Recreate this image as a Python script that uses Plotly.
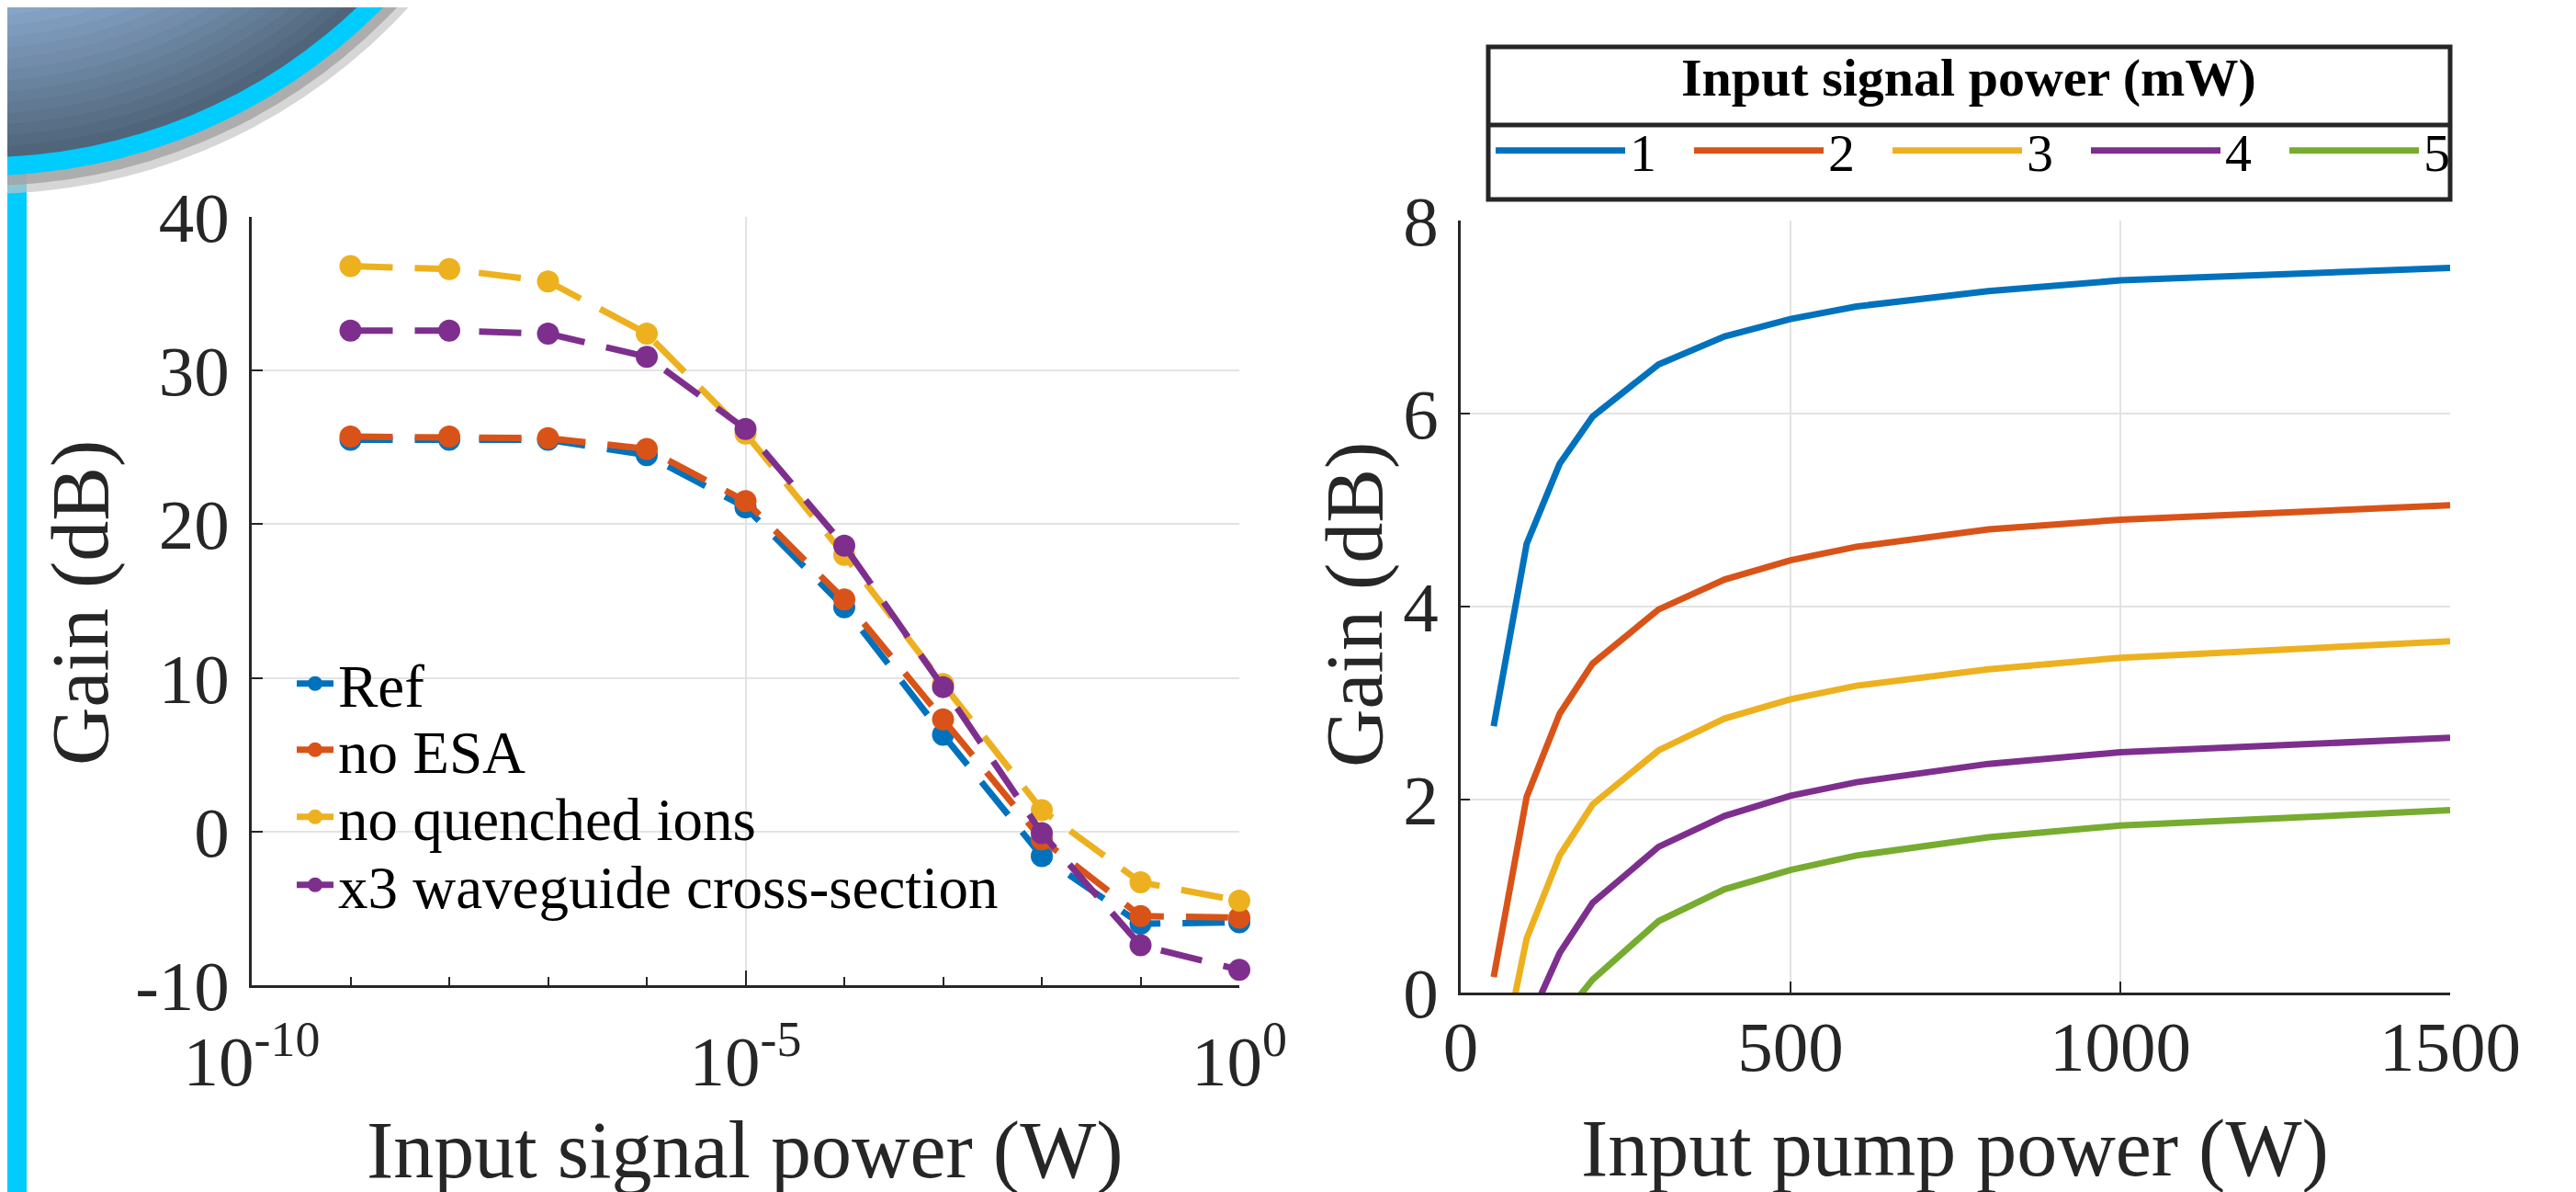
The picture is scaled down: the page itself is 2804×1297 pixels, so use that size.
import plotly.graph_objects as go

# ---------------- data: left panel ----------------
signal_power_W = [1e-9, 1e-8, 1e-7, 1e-6, 1e-5, 1e-4, 1e-3, 1e-2, 1e-1, 1e0]
gain_ref = [25.5, 25.5, 25.5, 24.5, 21.1, 14.6, 6.3, -1.6, -6.0, -5.9]
gain_no_esa = [25.7, 25.7, 25.6, 24.9, 21.5, 15.1, 7.3, -0.5, -5.5, -5.6]
gain_no_quench = [36.8, 36.6, 35.8, 32.4, 25.9, 18.0, 9.6, 1.4, -3.3, -4.5]
gain_x3 = [32.6, 32.6, 32.4, 30.9, 26.2, 18.6, 9.4, -0.1, -7.4, -9.0]
left_names = ["Ref", "no ESA", "no quenched ions", "x3 waveguide cross-section"]
left_series = [gain_ref, gain_no_esa, gain_no_quench, gain_x3]
left_xticks = [1e-10, 1e-5, 1e0]
left_xticktext = ["10<sup>-10</sup>", "10<sup>-5</sup>", "10<sup>0</sup>"]
left_minor = [1e-9, 1e-8, 1e-7, 1e-6, 1e-4, 1e-3, 1e-2, 1e-1]
left_yticks = [-10, 0, 10, 20, 30, 40]
left_yticktext = ["-10", "0", "10", "20", "30", "40"]

# ---------------- data: right panel ----------------
pump_power_W = [50, 100, 150, 200, 300, 400, 500, 600, 800, 1000, 1500]
gain_1mW = [2.76, 4.65, 5.48, 5.97, 6.51, 6.80, 6.98, 7.11, 7.27, 7.38, 7.51]
gain_2mW = [0.16, 2.03, 2.89, 3.41, 3.97, 4.28, 4.48, 4.62, 4.80, 4.90, 5.05]
gain_3mW = [-1.1, 0.56, 1.42, 1.95, 2.51, 2.84, 3.04, 3.18, 3.35, 3.47, 3.64]
gain_4mW = [-2.4, -0.35, 0.41, 0.93, 1.51, 1.83, 2.04, 2.18, 2.37, 2.49, 2.64]
gain_5mW = [-3.6, -1.5, -0.29, 0.135, 0.74, 1.07, 1.27, 1.42, 1.61, 1.73, 1.89]
right_names = ["1", "2", "3", "4", "5"]
right_series = [gain_1mW, gain_2mW, gain_3mW, gain_4mW, gain_5mW]
right_xticks = [0, 500, 1000, 1500]
right_yticks = [0, 2, 4, 6, 8]

colors = ["#0072BD", "#D95319", "#EDB120", "#7E2F8E", "#77AC30"]

W, H = 2804, 1297
def px(x):
    return x / W
def py(y):
    return 1 - y / H

FONT = "Liberation Serif"
TXT = "#262626"

fig = go.Figure()

left_legends = ["legend", "legend3", "legend4", "legend5"]
left_rows_y = [736, 808, 881, 955]
for name, ys, c, lg in zip(left_names, left_series, colors, left_legends):
    fig.add_trace(go.Scatter(
        x=signal_power_W, y=ys, name=name, mode="lines+markers",
        line=dict(color=c, width=7, dash="46px,24px"),
        marker=dict(color=c, size=24),
        cliponaxis=False, xaxis="x", yaxis="y", legend=lg))

for name, ys, c in zip(right_names, right_series, colors):
    fig.add_trace(go.Scatter(
        x=pump_power_W, y=ys, name=name, mode="lines",
        line=dict(color=c, width=7),
        xaxis="x2", yaxis="y2", legend="legend2"))

axis_common = dict(
    showline=True, linecolor=TXT, linewidth=2.5, mirror=False,
    showgrid=True, gridcolor="#e3e3e3", gridwidth=2,
    zeroline=False, ticks="inside", tickcolor=TXT, tickwidth=2,
    tickfont=dict(family=FONT, size=77, color=TXT),
    automargin=False,
)

layout_legends = {}
for lg, yrow in zip(left_legends, left_rows_y):
    layout_legends[lg] = dict(
        x=px(310), y=py(yrow), xanchor="left", yanchor="middle",
        bgcolor="rgba(0,0,0,0)", borderwidth=0,
        font=dict(family=FONT, size=65, color="black"), itemwidth=40)

fig.update_layout(
    width=W, height=H,
    margin=dict(l=0, r=0, t=0, b=0),
    paper_bgcolor="white", plot_bgcolor="white",
    font=dict(family=FONT, color=TXT),
    xaxis=dict(axis_common, type="log", domain=[px(266), px(1341)],
               range=[-10, 0], tickmode="array", tickvals=left_xticks,
               ticktext=left_xticktext, ticklen=16, ticklabelstandoff=14,
               minor=dict(tickmode="array", tickvals=left_minor, ticks="inside",
                          ticklen=9, tickcolor=TXT, tickwidth=2, showgrid=False),
               anchor="y"),
    yaxis=dict(axis_common, domain=[py(1064), py(228)], range=[-10, 40],
               tickmode="array", tickvals=left_yticks, ticktext=left_yticktext,
               ticklen=12, ticklabelstandoff=6, anchor="x"),
    xaxis2=dict(axis_common, domain=[px(1582), px(2659)], range=[0, 1500],
                tickmode="array", tickvals=right_xticks, ticklen=12,
                ticklabelstandoff=-10, anchor="y2"),
    yaxis2=dict(axis_common, domain=[py(1072), py(232)], range=[0, 8],
                tickmode="array", tickvals=right_yticks, ticklen=10,
                ticklabelstandoff=6, anchor="x2"),
    legend2=dict(x=px(1615), y=py(156), xanchor="left", yanchor="middle",
                 orientation="h", bgcolor="rgba(0,0,0,0)", borderwidth=0,
                 font=dict(family=FONT, size=58, color="black"),
                 itemwidth=141, entrywidth=60, entrywidthmode="pixels"),
    showlegend=True,
    **layout_legends,
)

ann = [
    dict(text="Input signal power (W)", x=px(803), y=py(1243), size=88, angle=0),
    dict(text="Input pump power (W)", x=px(2120), y=py(1241), size=88, angle=0),
    dict(text="Gain (dB)", x=px(79), y=py(648), size=88, angle=-90),
    dict(text="Gain (dB)", x=px(1466), y=py(650), size=88, angle=-90),
    dict(text="<b>Input signal power (mW)</b>", x=px(2135), y=py(76), size=58, angle=0),
]
for a in ann:
    fig.add_annotation(text=a["text"], x=a["x"], y=a["y"], xref="paper", yref="paper",
                       xanchor="center", yanchor="middle", showarrow=False,
                       textangle=a["angle"],
                       font=dict(family=FONT, size=a["size"],
                                 color="black" if "mW" in a["text"] else TXT))

shapes = []
# legend box for right panel
shapes.append(dict(type="rect", xref="paper", yref="paper", x0=px(1612), x1=px(2659),
                   y0=py(209), y1=py(43), line=dict(color=TXT, width=5), layer="above"))
shapes.append(dict(type="line", xref="paper", yref="paper", x0=px(1612), x1=px(2659),
                   y0=py(128), y1=py(128), line=dict(color=TXT, width=5), layer="above"))

# decorative slide elements (top-left)
shapes.append(dict(type="rect", xref="paper", yref="paper", x0=px(-5), x1=px(21),
                   y0=py(1300), y1=py(150), line=dict(width=0), fillcolor="#00CCFF",
                   layer="below"))
cx, cy = -27, -428
def circle(r, color, dx=0.0, dy=0.0, opacity=1.0):
    return dict(type="circle", xref="paper", yref="paper",
                x0=px(cx + dx - r), x1=px(cx + dx + r),
                y0=py(cy + dy + r), y1=py(cy + dy - r),
                line=dict(width=0), fillcolor=color, opacity=opacity, layer="below")

def mix(c1, c2, t):
    a = [int(c1[i:i + 2], 16) for i in (1, 3, 5)]
    b = [int(c2[i:i + 2], 16) for i in (1, 3, 5)]
    return "#" + "".join("%02x" % round(a[j] + (b[j] - a[j]) * t) for j in range(3))

shapes.append(circle(624, "#c4c4c4", dx=3, dy=7, opacity=0.7))
shapes.append(circle(617, "#a2a2a2", dx=2, dy=5, opacity=0.8))
shapes.append(circle(611, "#00CCFF"))
dark, light = "#50657a", "#93b4da"
nlay = 16
ux, uy = -0.3, -0.954
for k in range(nlay + 1):
    c = 6.0 * k
    shapes.append(circle(591 - c, mix(dark, light, k / nlay), dx=ux * c, dy=uy * c))
fig.update_layout(shapes=shapes)

fig.write_html("out.html")
